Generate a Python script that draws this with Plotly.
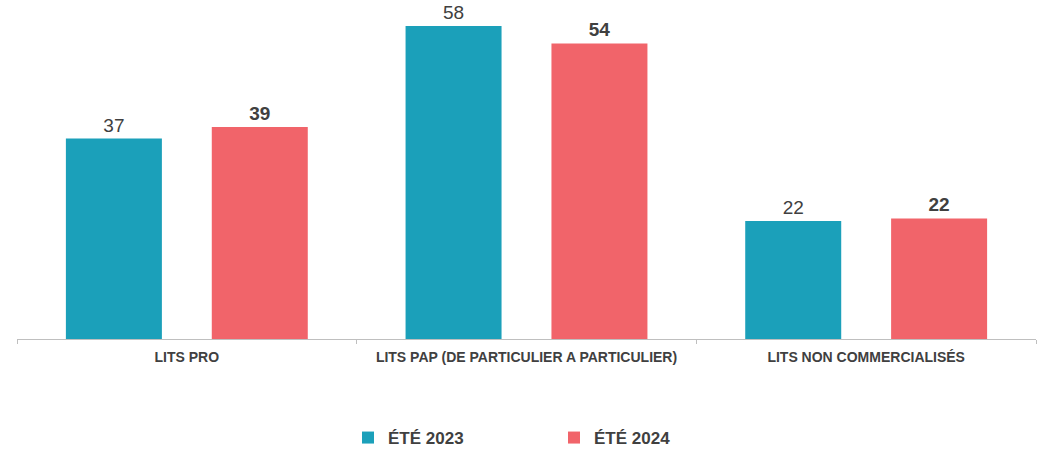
import plotly.graph_objects as go

categories = ["LITS PRO", "LITS PAP (DE PARTICULIER A PARTICULIER)", "LITS NON COMMERCIALISÉS"]
series_names = ["ÉTÉ 2023", "ÉTÉ 2024"]
values_2023 = [36.9, 57.6, 21.7]
values_2024 = [39.0, 54.4, 22.2]

teal = "#1BA0BA"
red = "#F1646A"
txt = "#404040"
font_family = "Liberation Sans, Arial, sans-serif"

fig = go.Figure()
fig.add_trace(go.Bar(
    name=series_names[0], x=categories, y=values_2023,
    marker=dict(color=teal, line=dict(width=0)),
    texttemplate="%{y:.0f}", textposition="outside",
    textfont=dict(family=font_family, size=19, color=txt),
    cliponaxis=False,
))
fig.add_trace(go.Bar(
    name=series_names[1], x=categories, y=values_2024,
    marker=dict(color=red, line=dict(width=0)),
    texttemplate="<b>%{y:.0f}</b>", textposition="outside",
    textfont=dict(family=font_family, size=19, color=txt),
    cliponaxis=False,
))

fig.update_layout(
    width=1044, height=449,
    margin=dict(l=17, r=8, t=13, b=110),
    paper_bgcolor="white", plot_bgcolor="white",
    barmode="group", bargap=0.141, bargroupgap=0.342,
    font=dict(family=font_family, color=txt),
    showlegend=True,
    legend=dict(
        orientation="h", x=0.527, xanchor="center",
        yref="container", y=0.0245, yanchor="middle",
        font=dict(family=font_family, size=17, color=txt, weight="bold"),
        entrywidthmode="pixels", entrywidth=161,
        itemclick=False, itemdoubleclick=False,
    ),
    xaxis=dict(
        showline=True, linecolor="#BFBFBF", linewidth=1,
        ticks="outside", tickson="boundaries", ticklen=4, tickcolor="#BFBFBF",
        tickfont=dict(family=font_family, size=14, color=txt, weight="bold"),
        ticklabelstandoff=5,
        showgrid=False, zeroline=False,
    ),
    yaxis=dict(range=[0, 60], visible=False, showgrid=False, zeroline=False),
)

fig.write_html("out.html", config={"displayModeBar": False},
               post_script="document.body.style.margin='0';")
